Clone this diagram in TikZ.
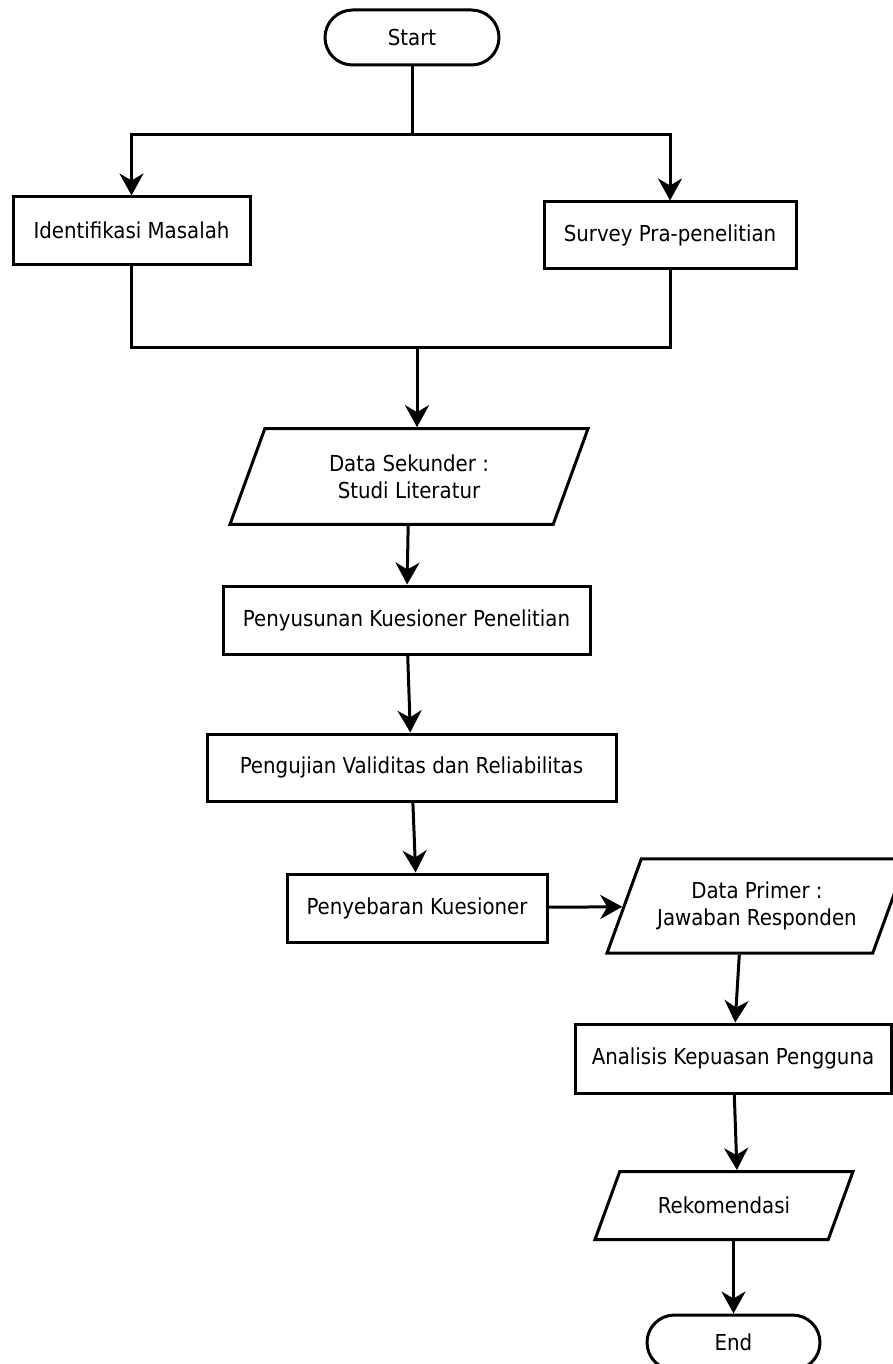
\documentclass[tikz,border=0pt]{standalone}
\usepackage{fontspec}
\setmainfont{DejaVu Sans Condensed}
\usetikzlibrary{shapes.geometric, arrows.meta, positioning}

\begin{document}
\begin{tikzpicture}[x = .5pt, y = -.5pt, line width = 1.5pt,
        >={Stealth[length = 11pt, width = 12pt, inset = 3.5pt]},
        every node/.style = {font = \fontsize{11}{13.5}\selectfont, align = center, inner sep = 0pt},
        process/.style = {rectangle, draw = black, fill = white},
        terminal/.style = {rectangle, draw = black, rounded corners = 13.75pt,
            minimum width = 87pt, minimum height = 27.5pt},
        data/.style = {trapezium, draw = black, trapezium left angle = 70,
            trapezium right angle = 110, trapezium stretches body}]
    \clip (0,0) rectangle (893,1364);

    % Start and the first two steps:
    \node [terminal] (start) at (412, 37.5) {Start};
    \node [process, minimum width = 118.5pt, minimum height = 33.5pt] (ident) at (131.5, 230.5) {Identifikasi Masalah};
    \node [process, minimum width = 126pt, minimum height = 33pt] (survey) at (670, 235) {Survey Pra-penelitian};

    \coordinate (split) at (412, 135);
    \coordinate (merge) at (417, 347);
    \draw (start) -- (split);
    \draw [->] (split) -| (ident);
    \draw [->] (split) -| (survey);
    \draw (ident) |- (merge);
    \draw (survey) |- (merge);

    % Main column:
    \node [data, minimum width = 179pt, inner ysep = 12.9pt] (sekunder) at (409, 476.5) {Data Sekunder :\\Studi Literatur};
    \node [process, minimum width = 183.5pt, minimum height = 34pt] (penyusunan) at (406.5, 620) {Penyusunan Kuesioner Penelitian};
    \node [process, minimum width = 204.5pt, minimum height = 33.5pt] (pengujian) at (411.5, 767.5) {Pengujian Validitas dan Reliabilitas};
    \node [process, minimum width = 130pt, minimum height = 34pt] (penyebaran) at (417, 908) {Penyebaran Kuesioner};

    \draw [->] (merge) -- (merge |- sekunder.north);
    \draw [->] (sekunder) -- (penyusunan);
    \draw [->] (penyusunan) -- (pengujian);
    \draw [->] (pengujian) -- (penyebaran);

    % Right column down to End:
    \node [data, minimum width = 150pt, inner ysep = 11.5pt] (primer) at (757, 906) {Data Primer :\\Jawaban Responden};
    \node [process, minimum width = 158pt, minimum height = 34.5pt] (analisis) at (733, 1058.5) {Analisis Kepuasan Pengguna};
    \node [data, minimum width = 129pt, inner ysep = 12.75pt] (rekomendasi) at (724, 1205.5) {Rekomendasi};
    \node [terminal, minimum width = 86.5pt] (end) at (733.5, 1342.5) {End};

    \draw [->] (penyebaran) -- (primer);
    \draw [->] (primer.bottom side) -- (analisis);
    \draw [->] (analisis) -- (rekomendasi.top side);
    \draw [->] (end.north |- rekomendasi.south) -- (end);
\end{tikzpicture}
\end{document}
